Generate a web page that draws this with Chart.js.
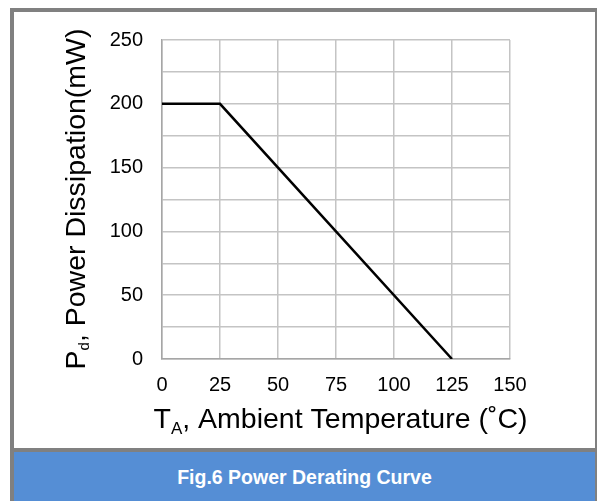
<!DOCTYPE html>
<html>
<head>
<meta charset="utf-8">
<script src="https://cdn.jsdelivr.net/npm/chart.js@4"></script>
<style>
  html, body { margin: 0; padding: 0; background: #fff; }
  #wrap { position: relative; width: 597px; height: 501px; overflow: hidden; }
  #frame { position: absolute; left: 10px; top: 8px; width: 581px; height: 600px; border: 4px solid #808080; box-sizing: content-box; }
  #cap { position: absolute; left: 14px; top: 452px; width: 581px; height: 49px; background: #558ed5;
         color: #fff; font: bold 19.5px Arial, "Liberation Sans", sans-serif; text-align: center; line-height: 50px; }
  #sep { position: absolute; left: 14px; top: 448px; width: 581px; height: 4px; background: #808080; }
  canvas { position: absolute; left: 0; top: 0; }
</style>
</head>
<body>
<div id="wrap">
  <div id="frame"></div>
  <div id="sep"></div>
  <div id="cap">Fig.6 Power Derating Curve</div>
  <canvas id="myChart" width="597" height="501"></canvas>
</div>
<script>
const temps = [0, 25, 125];
const power = [200, 200, 0];
const xTicks = [0, 25, 50, 75, 100, 125, 150];
const yTicks = [0, 50, 100, 150, 200, 250];

const FONT = 'Arial, "Liberation Sans", sans-serif';

// draw main text + subscript + rest, centred on cx
function subTitle(ctx, cx, main, sub, rest, bigSize, subSize, subDrop) {
  const big = bigSize + 'px ' + FONT, small = subSize + 'px ' + FONT;
  ctx.font = big;
  const w1 = ctx.measureText(main).width;
  const w3 = ctx.measureText(rest).width;
  ctx.font = small;
  const w2 = ctx.measureText(sub).width;
  let x = cx - (w1 + w2 + w3) / 2;
  ctx.font = big; ctx.fillText(main, x, 0); x += w1;
  ctx.font = small; ctx.fillText(sub, x, subDrop); x += w2;
  ctx.font = big; ctx.fillText(rest, x, 0);
}

const titles = {
  id: 'titles',
  afterDraw(chart) {
    const ctx = chart.ctx;
    ctx.save();
    ctx.fillStyle = '#000';
    ctx.textBaseline = 'alphabetic';
    ctx.translate(0, 428);
    subTitle(ctx, 340.5, 'T', 'A', ', Ambient Temperature (˚C)', 28.5, 17, 6);
    ctx.restore();

    ctx.save();
    ctx.fillStyle = '#000';
    ctx.textBaseline = 'alphabetic';
    ctx.translate(85, 199);
    ctx.rotate(-Math.PI / 2);
    subTitle(ctx, 0, 'P', 'd', ', Power Dissipation(mW)', 28.5, 15, 4);
    ctx.restore();
  }
};

const data = {
  datasets: [{
    data: temps.map((t, i) => ({ x: t, y: power[i] })),
    borderColor: '#000',
    borderWidth: 2.5,
    pointRadius: 0,
    fill: false,
    tension: 0
  }]
};

const config = {
  type: 'line',
  data: data,
  options: {
    responsive: false,
    animation: false,
    layout: { padding: { left: 0, top: 40, right: 87, bottom: 102 } },
    plugins: { legend: { display: false }, tooltip: { enabled: false } },
    scales: {
      x: {
        type: 'linear',
        min: 0, max: 150,
        afterFit(s) { s.height = 40; },
        afterBuildTicks(s) { s.ticks = xTicks.map(v => ({ value: v })); },
        grid: { color: '#c4c4c4', lineWidth: 1.5, drawTicks: false },
        border: { color: '#a6a6a6', width: 1.5 },
        ticks: { color: '#000', font: { family: FONT, size: 20 }, padding: 14, maxRotation: 0 }
      },
      y: {
        min: 0, max: 250,
        afterFit(s) { s.width = 162; },
        afterBuildTicks(s) {
          const t = [];
          for (let v = 0; v <= 250; v += 25) t.push({ value: v });
          s.ticks = t;
        },
        grid: { color: '#c4c4c4', lineWidth: 1.5, drawTicks: false },
        border: { color: '#a6a6a6', width: 1.5 },
        ticks: {
          color: '#000', font: { family: FONT, size: 20 }, padding: 19,
          callback: v => yTicks.includes(v) ? String(v) : ''
        }
      }
    }
  },
  plugins: [titles]
};

const myChart = new Chart(document.getElementById('myChart'), config);
</script>
</body>
</html>
